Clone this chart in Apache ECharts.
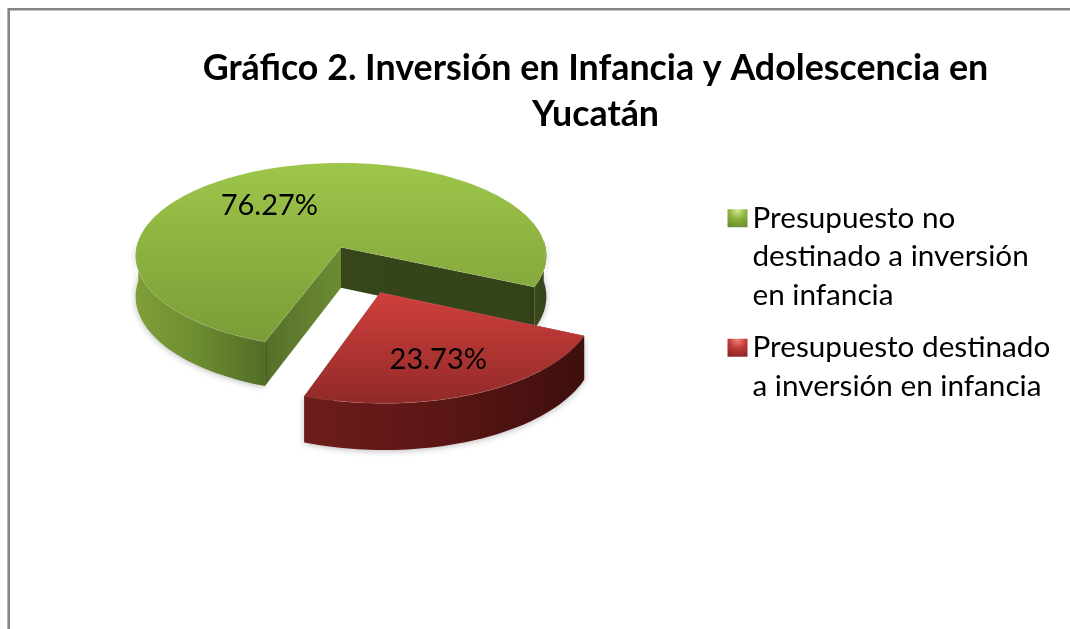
<!DOCTYPE html>
<html>
<head>
<meta charset="utf-8">
<style>
  html, body { margin: 0; padding: 0; background: #fff; }
  #main { width: 1070px; height: 629px; }
</style>
<script src="https://cdn.jsdelivr.net/npm/echarts@6/dist/echarts.min.js"></script>
</head>
<body>
<div id="main"></div>
<script>
const categories = [
  "Presupuesto no destinado a inversión en infancia",
  "Presupuesto destinado a inversión en infancia",
]
const values = [76.27, 23.73]
const legendLines = [
  ["Presupuesto no", "destinado a inversión", "en infancia"],
  ["Presupuesto destinado", "a inversión en infancia"],
]
const titleText = "Gráfico 2. Inversión en Infancia y Adolescencia en\nYucatán"

const FONT = "Lato, 'Noto Sans', sans-serif"

// projected disk: perspective fitted to the picture
const pie = { cx: 341, cy: 247.3, r: 204.5, tilt: 92, persp: 0.09, depth: 40.5, startAngle: 109.9 }

const sliceStyles = [
  {
    explode: 0,
    explodeShift: 0,
    top: ["#9ec64a", "#7a9c36"],
    wall: ["#7f9f3a", "#6b8b30", "#536d28"],
    backWall: ["#3a4a1a", "#34431a"],
    startWall: ["#55702a", "#6c8c32"],
    endWall: ["#36461a", "#34431a"],
    labelShift: -14,
    labelR: 0.61,
    legendColor: ["#d4ea90", "#8db23e", "#6f9030"],
  },
  {
    explode: 0.506,
    explodeShift: 1.5,
    top: ["#cf3f3c", "#912a28"],
    wall: ["#6e1d1b", "#5a1614", "#3e0f0d"],
    backWall: ["#3e0f0d", "#3e0f0d"],
    startWall: ["#5a1614", "#5a1614"],
    endWall: ["#3e0f0d", "#3e0f0d"],
    labelShift: 1,
    labelR: 0.66,
    legendColor: ["#f4827c", "#c23b38", "#8f2826"],
  },
]

const rad = (deg) => (deg * Math.PI) / 180

const project = (x, y, z) => {
  const s = 1 / (1 - pie.persp * y)
  return [pie.cx + pie.r * x * s, pie.cy + pie.tilt * y * s + pie.depth * z * s]
}

const linear = (colors, vertical) => ({
  type: "linear",
  x: 0,
  y: 0,
  x2: vertical ? 0 : 1,
  y2: vertical ? 1 : 0,
  colorStops: colors.map((color, i) => ({ offset: i / (colors.length - 1), color })),
})

const sliceAngles = (index) => {
  let start = pie.startAngle
  for (let i = 0; i < index; i++) start += (values[i] / 100) * 360
  return [start, start + (values[index] / 100) * 360]
}

const renderSlice = (params, api) => {
  const index = params.seriesIndex
  const st = sliceStyles[index]
  const value = api.value(0)
  const [start, end] = sliceAngles(index)
  const mid = (start + end) / 2
  const ox = st.explode * Math.cos(rad(mid + st.explodeShift))
  const oy = st.explode * Math.sin(rad(mid + st.explodeShift))

  const rim = (deg, z) => project(ox + Math.cos(rad(deg)), oy + Math.sin(rad(deg)), z)
  const apex = (z) => project(ox, oy, z)
  const arc = (from, to, z) => {
    const pts = []
    const steps = Math.max(2, Math.ceil(Math.abs(to - from) / 1.5))
    for (let i = 0; i <= steps; i++) pts.push(rim(from + ((to - from) * i) / steps, z))
    return pts
  }
  const shadow = { shadowBlur: 6, shadowColor: "rgba(0,0,0,0.28)", shadowOffsetY: 1 }
  const poly = (points, fill, extra) => ({
    type: "polygon",
    shape: { points },
    style: Object.assign({ fill }, extra),
  })
  const wallBetween = (from, to, colors) =>
    poly(arc(from, to, 0).concat(arc(to, from, 1)), linear(colors), shadow)

  const children = []
  // cut walls first, the rim and the top cover what should not show
  children.push(poly([apex(0), rim(end, 0), rim(end, 1), apex(1)], linear(st.endWall)))
  children.push(poly([apex(0), rim(start, 0), rim(start, 1), apex(1)], linear(st.startWall)))
  // outer wall pieces on the near half of the disk only
  ;[0, 360].forEach((turn) => {
    const from = Math.max(start, turn - 4)
    const to = Math.min(end, turn + 184)
    if (to > from) {
      const colors = turn === 360 && index === 0 ? st.backWall : st.wall
      children.push(wallBetween(from, to, colors))
    }
  })
  // top face
  children.push({
    type: "polygon",
    shape: { points: [apex(0)].concat(arc(start, end, 0)) },
    style: { fill: linear(st.top, true), stroke: "rgba(255,255,255,0.12)", lineWidth: 1 },
  })
  // value label
  const la = rad(mid + st.labelShift)
  const [lx, ly] = project(ox + st.labelR * Math.cos(la), oy + st.labelR * Math.sin(la), 0)
  children.push({
    type: "text",
    style: {
      text: value.toFixed(2) + "%",
      x: lx,
      y: ly + 1.5,
      fill: "#000",
      font: "29px " + FONT,
      align: "center",
      verticalAlign: "middle",
    },
  })
  return { type: "group", children }
}

// legend centres text on its icon, blank lines put the icon beside the first line
const legendText = (i) => {
  const lines = legendLines[i]
  return new Array(lines.length - 1).fill("").concat(lines).join("\n")
}

const legendFor = (i, top) => ({
  orient: "vertical",
  left: 727.5,
  top,
  padding: 0,
  data: [
    {
      name: categories[i],
      itemStyle: {
        color: {
          type: "radial",
          x: 0.5,
          y: 0.05,
          r: 0.95,
          colorStops: sliceStyles[i].legendColor.map((color, k) => ({ offset: k / 2, color })),
        },
      },
    },
  ],
  selectedMode: false,
  icon: "rect",
  itemWidth: 20,
  itemHeight: 18,
  itemGap: 0,
  formatter: () => legendText(i),
  textStyle: {
    color: "#000",
    fontFamily: FONT,
    fontSize: 29.7,
    lineHeight: 38.5,
  },
})

const myE = echarts.init(document.getElementById("main"), null, { renderer: "canvas" })
const option = {
  animation: false,
  backgroundColor: "#fff",
  title: {
    text: titleText,
    left: 595.5,
    top: 45,
    padding: 0,
    textAlign: "center",
    textStyle: {
      color: "#000",
      fontFamily: FONT,
      fontWeight: "bold",
      fontSize: 35.8,
      lineHeight: 46,
    },
  },
  legend: [legendFor(0, 122), legendFor(1, 290)],
  graphic: [
    {
      type: "polyline",
      silent: true,
      shape: {
        points: [
          [8.7, 629],
          [8.7, 9.2],
          [1070, 9.2],
        ],
      },
      style: { stroke: "#868686", lineWidth: 2.6, fill: null },
    },
  ],
  series: categories.map((name, i) => ({
    name,
    type: "custom",
    coordinateSystem: "none",
    renderItem: renderSlice,
    itemStyle: { color: sliceStyles[i].legendColor[1] },
    data: [[values[i]]],
  })),
}
myE.setOption(option)
window.addEventListener("resize", () => {
  myE.resize()
})
</script>
</body>
</html>
